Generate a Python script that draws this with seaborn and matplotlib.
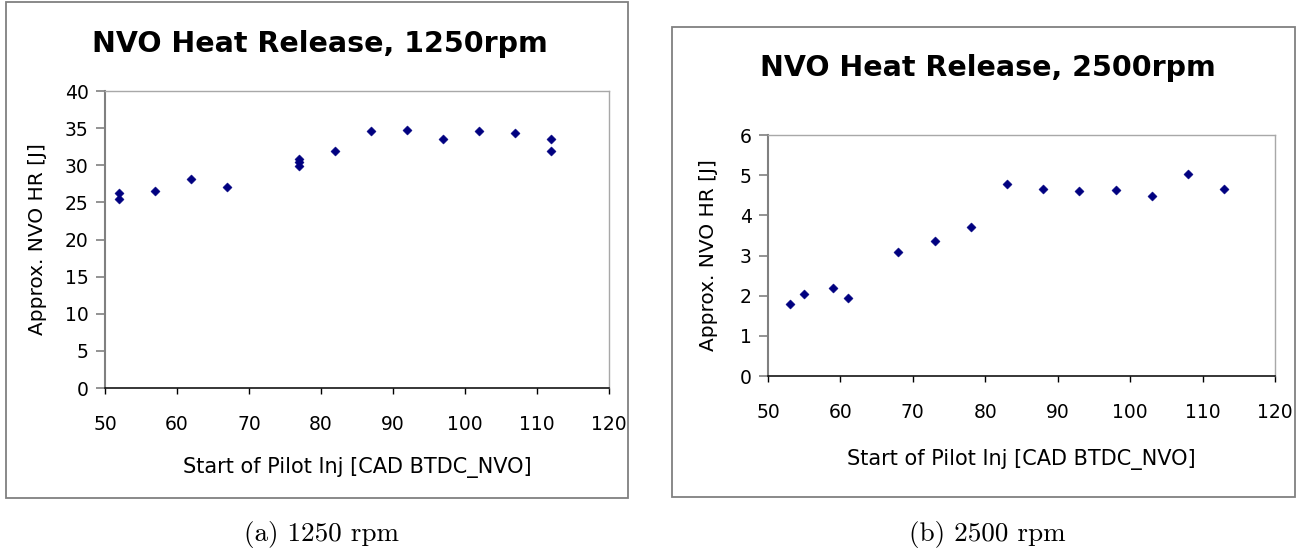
import matplotlib
matplotlib.use("Agg")
import matplotlib.pyplot as plt
import seaborn as sns
import pandas as pd
from matplotlib.patches import Rectangle

# ---- data ----
x_1250 = [52, 52, 57, 62, 67, 77, 77, 77, 82, 87, 92, 97, 102, 107, 112, 112]
y_1250 = [26.3, 25.5, 26.5, 28.2, 27.1, 30.9, 30.4, 29.9, 31.9, 34.6, 34.8, 33.5, 34.6, 34.4, 33.6, 31.9]

x_2500 = [53, 55, 59, 61, 68, 73, 78, 83, 88, 93, 98, 103, 108, 113]
y_2500 = [1.79, 2.05, 2.18, 1.95, 3.08, 3.36, 3.72, 4.77, 4.66, 4.61, 4.62, 4.47, 5.04, 4.66]

titles = ["NVO Heat Release, 1250rpm", "NVO Heat Release, 2500rpm"]
captions = ["(a) 1250 rpm", "(b) 2500 rpm"]
xlabel = "Start of Pilot Inj [CAD BTDC_NVO]"
ylabel = "Approx. NVO HR [J]"
xticks = [50, 60, 70, 80, 90, 100, 110, 120]
yticks_1250 = [0, 5, 10, 15, 20, 25, 30, 35, 40]
yticks_2500 = [0, 1, 2, 3, 4, 5, 6]

sns.set_style("white")
plt.rcParams["font.family"] = ["DejaVu Sans"]
plt.rcParams["text.color"] = "black"
plt.rcParams["xtick.color"] = "black"
plt.rcParams["ytick.color"] = "black"

W, H = 1302, 552
fig = plt.figure(figsize=(W / 100, H / 100), dpi=100)
fig.patch.set_facecolor("white")


def px_axes(x0, y0, x1, y1):
    return fig.add_axes([x0 / W, 1 - y1 / H, (x1 - x0) / W, (y1 - y0) / H])


def frame(x0, y0, x1, y1):
    fig.patches.append(Rectangle((x0 / W, 1 - y1 / H), (x1 - x0) / W, (y1 - y0) / H,
                                 transform=fig.transFigure, fill=False,
                                 edgecolor="#808080", linewidth=1.3))


frame(6, 2, 628, 498)
frame(672, 27, 1295, 497)

panels = [
    dict(box=(105, 91, 609, 388), x=x_1250, y=y_1250, yt=yticks_1250, ylim=(0, 40),
         title_xy=(320, 44), ylab_x=38, xlab_y=467, cap_x=322),
    dict(box=(768, 135, 1275, 376), x=x_2500, y=y_2500, yt=yticks_2500, ylim=(0, 6),
         title_xy=(988, 68), ylab_x=709, xlab_y=460, cap_x=987),
]

for i, p in enumerate(panels):
    x0, y0, x1, y1 = p["box"]
    ax = px_axes(x0, y0, x1, y1)
    df = pd.DataFrame({"x": p["x"], "y": p["y"]})
    sns.scatterplot(data=df, x="x", y="y", ax=ax, marker="D", s=22,
                    color="#000080", edgecolor="#000080", linewidth=0.3)
    ax.set_xlim(50, 120)
    ax.set_ylim(*p["ylim"])
    ax.set_xticks(xticks)
    ax.set_yticks(p["yt"])
    ax.set_xlabel("")
    ax.set_ylabel("")
    ax.tick_params(axis="x", direction="out", length=4.3, width=1, color="#000000",
                   labelcolor="black", pad=15, labelsize=13.5, bottom=True)
    ax.tick_params(axis="y", direction="out", length=6.3, width=1.2, color="#808080",
                   labelcolor="black", pad=5.5, labelsize=13.5, left=True)
    ax.spines["left"].set_color("#808080")
    ax.spines["left"].set_linewidth(1.5)
    ax.spines["bottom"].set_color("#000000")
    ax.spines["bottom"].set_linewidth(1.1)
    for s in ("top", "right"):
        ax.spines[s].set_color("#a8a8a8")
        ax.spines[s].set_linewidth(1.0)
    ax.set_facecolor("white")

    tx, ty = p["title_xy"]
    fig.text(tx / W, 1 - ty / H, titles[i], ha="center", va="center",
             fontsize=20.5, fontweight="bold", color="black")
    fig.text(p["ylab_x"] / W, 1 - ((y0 + y1) / 2) / H, ylabel, rotation=90,
             ha="center", va="center", fontsize=14.5, color="black")
    fig.text(((x0 + x1) / 2) / W, 1 - p["xlab_y"] / H, xlabel, ha="center",
             va="center", fontsize=15, color="black")
    fig.text(p["cap_x"] / W, 1 - 535 / H, captions[i], ha="center", va="center",
             fontsize=19.5, family=["cmr10", "DejaVu Serif"], color="black")

fig.savefig("out.png", dpi=100, facecolor="white")
